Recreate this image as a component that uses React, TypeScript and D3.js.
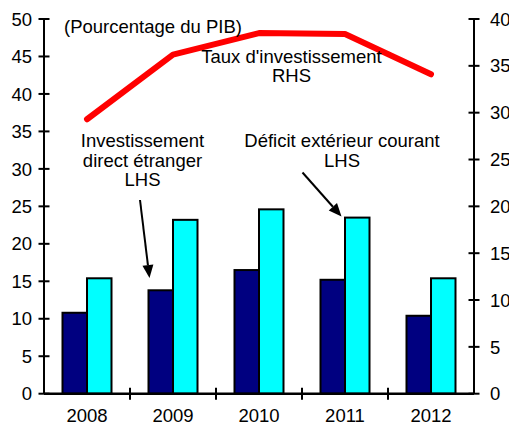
import React from 'react';
import * as d3 from 'd3';

const years = ['2008', '2009', '2010', '2011', '2012'];
const fdiValues = [10.8, 13.8, 16.5, 15.2, 10.4];
const deficitValues = [15.4, 23.2, 24.6, 23.5, 15.4];
const investValues = [29.3, 36.2, 38.5, 38.4, 34.1];
const leftTicks = [0, 5, 10, 15, 20, 25, 30, 35, 40, 45, 50];
const rightTicks = [0, 5, 10, 15, 20, 25, 30, 35, 40];

const W = 509;
const H = 424;
const FONT = '"Liberation Sans", Arial, sans-serif';
const FS = 18.5;

export default function App() {
  const x = d3.scaleBand<string>().domain(years).range([44, 474]);
  const yL = d3.scaleLinear().domain([0, 50]).range([393.7, 19]);
  const yR = d3.scaleLinear().domain([0, 40]).range([393.7, 19]);
  const barW = 24.5;
  const cx = (d: string) => (x(d) as number) + x.bandwidth() / 2;

  const line = d3
    .line<number>()
    .x((_, i) => cx(years[i]))
    .y((v) => yR(v));

  const arrow = (x1: number, y1: number, x2: number, y2: number) => {
    const ang = Math.atan2(y2 - y1, x2 - x1);
    const len = 13;
    const half = 5.5;
    const bx = x2 - len * Math.cos(ang);
    const by = y2 - len * Math.sin(ang);
    const px = -Math.sin(ang) * half;
    const py = Math.cos(ang) * half;
    return (
      <g>
        <line x1={x1} y1={y1} x2={bx} y2={by} stroke="#000" strokeWidth={2} />
        <polygon points={`${x2},${y2} ${bx + px},${by + py} ${bx - px},${by - py}`} fill="#000" />
      </g>
    );
  };

  return (
    <svg
      width={W}
      height={H}
      style={{ position: 'absolute', left: 0, top: 0, background: '#fff' }}
      fontFamily={FONT}
      fontSize={FS}
    >
      <rect x={0} y={0} width={W} height={H} fill="#fff" />
      {/* bars */}
      {years.map((yr, i) => (
        <g key={yr}>
          <rect
            x={cx(yr) - barW}
            y={yL(fdiValues[i])}
            width={barW}
            height={yL(0) - yL(fdiValues[i])}
            fill="#000080"
            stroke="#000"
            strokeWidth={2}
          />
          <rect
            x={cx(yr)}
            y={yL(deficitValues[i])}
            width={barW}
            height={yL(0) - yL(deficitValues[i])}
            fill="#00FFFF"
            stroke="#000"
            strokeWidth={2}
          />
        </g>
      ))}
      {/* red line */}
      <path
        d={line(investValues) || ''}
        fill="none"
        stroke="#FF0000"
        strokeWidth={6}
        strokeLinejoin="round"
        strokeLinecap="round"
      />
      {/* left axis */}
      <line x1={44} y1={yL(50)} x2={44} y2={yL(0)} stroke="#000" strokeWidth={2} />
      {leftTicks.map((t) => (
        <g key={'l' + t}>
          <line x1={38.5} x2={49.5} y1={yL(t)} y2={yL(t)} stroke="#000" strokeWidth={2} />
          <text x={32} y={yL(t)} dy="0.36em" textAnchor="end">
            {t}
          </text>
        </g>
      ))}
      {/* right axis */}
      <line x1={474} y1={yR(40)} x2={474} y2={yR(0)} stroke="#000" strokeWidth={2} />
      {rightTicks.map((t) => (
        <g key={'r' + t}>
          <line x1={468.5} x2={479.5} y1={yR(t)} y2={yR(t)} stroke="#000" strokeWidth={2} />
          <text x={490} y={yR(t)} dy="0.36em" textAnchor="start">
            {t}
          </text>
        </g>
      ))}
      {/* x axis */}
      <line x1={44} y1={yL(0)} x2={474} y2={yL(0)} stroke="#000" strokeWidth={2.5} />
      {years.slice(1).map((yr) => (
        <line
          key={'xt' + yr}
          x1={x(yr) as number}
          x2={x(yr) as number}
          y1={yL(0) - 6}
          y2={yL(0) + 6}
          stroke="#000"
          strokeWidth={2}
        />
      ))}
      {years.map((yr) => (
        <text key={'xl' + yr} x={cx(yr)} y={422} textAnchor="middle">
          {yr}
        </text>
      ))}
      {/* annotations */}
      <text x={64} y={33}>(Pourcentage du PIB)</text>
      <text x={291.5} y={62.5} textAnchor="middle">Taux d'investissement</text>
      <text x={291.5} y={82} textAnchor="middle">RHS</text>
      <text x={142.5} y={146.5} textAnchor="middle">Investissement</text>
      <text x={142.5} y={166.5} textAnchor="middle">direct étranger</text>
      <text x={142.5} y={186} textAnchor="middle">LHS</text>
      <text x={342} y={146.5} textAnchor="middle">Déficit extérieur courant</text>
      <text x={342} y={166.5} textAnchor="middle">LHS</text>
      {arrow(140, 200, 149.5, 278)}
      {arrow(302.5, 172.5, 341.5, 216.5)}
    </svg>
  );
}
